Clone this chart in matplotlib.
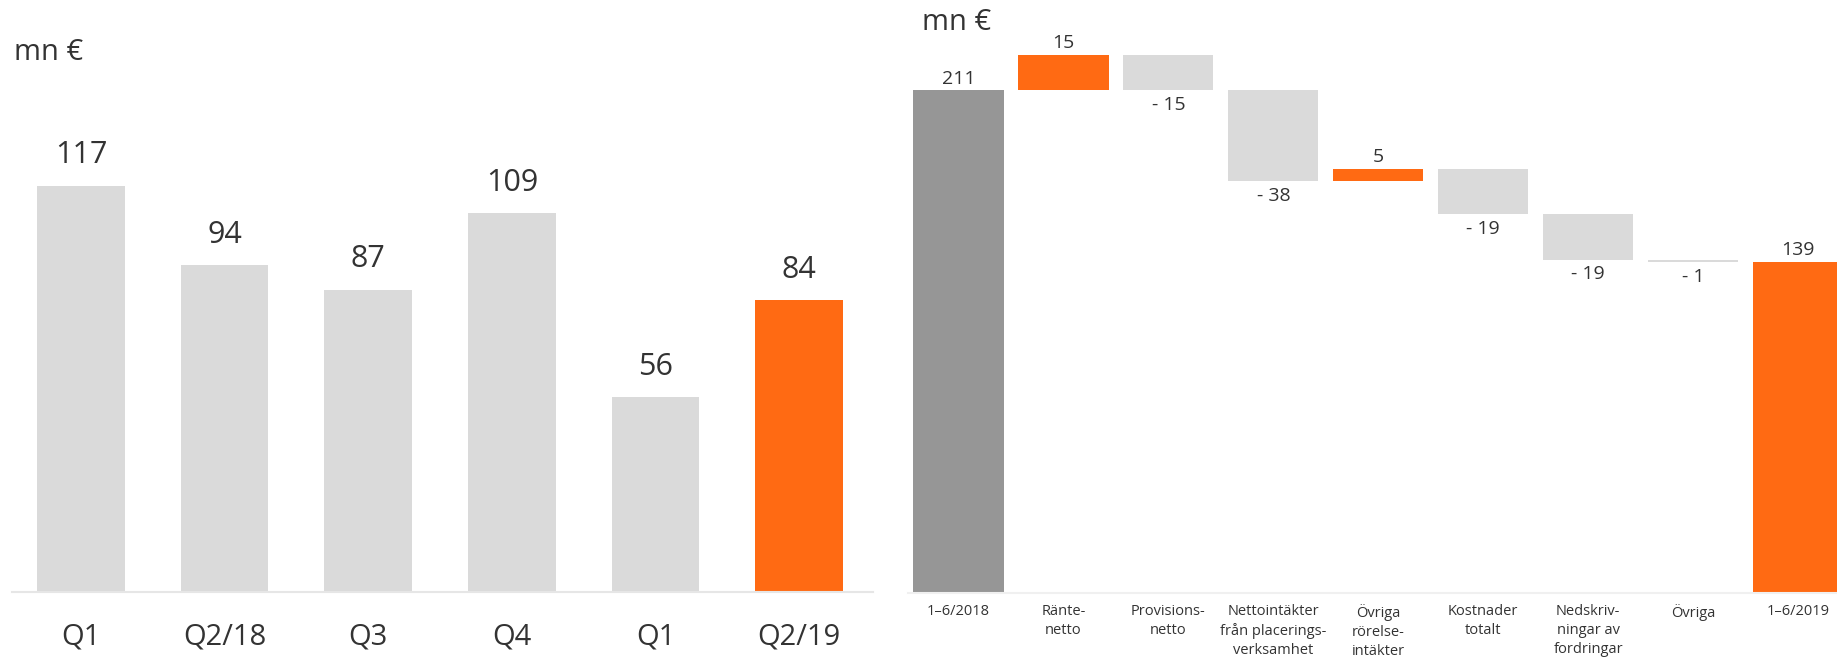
import numpy as np
import matplotlib
matplotlib.use("Agg")
from matplotlib import pyplot as plt

# left panel: quarterly values
quarters = ["Q1", "Q2/18", "Q3", "Q4", "Q1", "Q2/19"]
quarter_values = [117, 94, 87, 109, 56, 84]

# right panel: waterfall
wf_labels = ["1–6/2018", "Ränte-\nnetto", "Provisions-\nnetto",
             "Nettointäkter\nfrån placerings-\nverksamhet", "Övriga\nrörelse-\nintäkter",
             "Kostnader\ntotalt", "Nedskriv-\nningar av\nfordringar", "Övriga", "1–6/2019"]
wf_start = 211
wf_changes = [15, -15, -38, 5, -19, -19, -1]
wf_end = 139

LIGHT = "#DADADA"
DARK = "#969696"
ORANGE = "#FF6A13"
TEXT = "#333333"
LINE = "#E6E6E6"

plt.rcParams["font.family"] = ["Open Sans", "DejaVu Sans"]

fig = plt.figure(figsize=(18.37, 6.59), dpi=100)

# ---- left
ax1 = fig.add_axes([0.0065, 0.1017, 0.4685, 0.8983])
x1 = np.arange(len(quarters))
colors1 = [LIGHT] * (len(quarters) - 1) + [ORANGE]
ax1.bar(x1, quarter_values, width=0.61, color=colors1)
for xi, v in zip(x1, quarter_values):
    ax1.annotate(str(v), (xi, v), xytext=(0, 11), textcoords="offset points",
                 ha="center", va="bottom", fontsize=22, color=TEXT)
ax1.set_xlim(-0.48, 5.51)
ax1.set_ylim(0, 170.4)
ax1.set_xticks(x1)
ax1.set_xticklabels(quarters, fontsize=21, color=TEXT)
ax1.tick_params(axis="x", length=0, pad=22)
ax1.set_yticks([])
for s in ["top", "right", "left"]:
    ax1.spines[s].set_visible(False)
ax1.spines["bottom"].set_color(LINE)
ax1.spines["bottom"].set_linewidth(1.5)
fig.text(14 / 1837, 1 - 53 / 659, "mn €", fontsize=21, color=TEXT, ha="left", va="center")

# ---- right (waterfall)
ax2 = fig.add_axes([0.4943, 0.1002, 0.5057, 0.8998])
levels = wf_start + np.cumsum(wf_changes)
prev = np.concatenate([[wf_start], levels[:-1]])
n = len(wf_labels)
x2 = np.arange(n)
w = 0.86
ax2.bar(x2[0], wf_start, width=w, color=DARK)
ax2.bar(x2[-1], wf_end, width=w, color=ORANGE)
for i, (c, p) in enumerate(zip(wf_changes, prev)):
    col = ORANGE if c > 0 else LIGHT
    ax2.bar(x2[i + 1], c, bottom=p, width=w, color=col)
    if c > 0:
        ax2.annotate(str(c), (x2[i + 1], p + c), xytext=(0, 2), textcoords="offset points",
                     ha="center", va="bottom", fontsize=14, color=TEXT)
    else:
        ax2.annotate(f"- {abs(c)}", (x2[i + 1], p + c), xytext=(0, -4), textcoords="offset points",
                     ha="center", va="top", fontsize=14, color=TEXT)
ax2.annotate(str(wf_start), (x2[0], wf_start), xytext=(0, 2), textcoords="offset points",
             ha="center", va="bottom", fontsize=14, color=TEXT)
ax2.annotate(str(wf_end), (x2[-1], wf_end), xytext=(0, 2), textcoords="offset points",
             ha="center", va="bottom", fontsize=14, color=TEXT)
ax2.set_xlim(-0.48, 8.37)
ax2.set_ylim(0, 249)
ax2.set_xticks(x2)
ax2.set_xticklabels(wf_labels, fontsize=10.5, color=TEXT, linespacing=1.35)
ax2.tick_params(axis="x", length=0, pad=8)
ax2.set_yticks([])
for s in ["top", "right", "left"]:
    ax2.spines[s].set_visible(False)
ax2.spines["bottom"].set_color("#F0F0F0")
ax2.spines["bottom"].set_linewidth(1.5)
fig.text(922 / 1837, 1 - 23 / 659, "mn €", fontsize=21, color=TEXT, ha="left", va="center")

fig.savefig("out.png", dpi=100)
